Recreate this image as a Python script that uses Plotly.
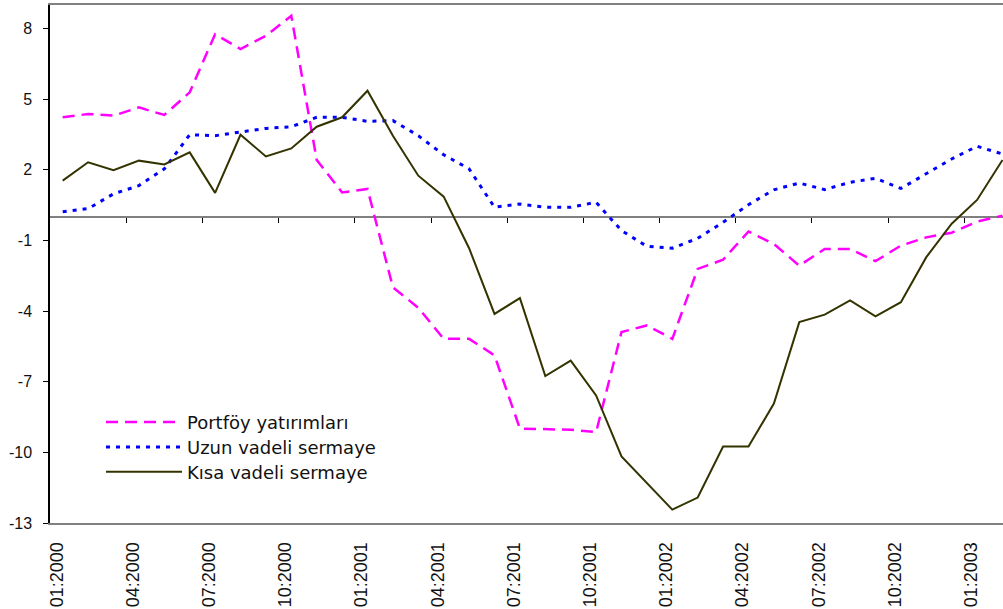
import plotly.graph_objects as go

# Monthly periods, 01:2000 .. 02:2003
months = [f"{m:02d}:{y}" for y in range(2000, 2004) for m in range(1, 13)][:38]

# Series values (percent)
portfoy = [4.23, 4.37, 4.30, 4.65, 4.33, 5.29, 7.76, 7.13, 7.69, 8.54,
           2.42, 1.04, 1.19, -2.99, -3.86, -5.18, -5.18, -5.88, -8.99, -9.00,
           -9.04, -9.14, -4.89, -4.61, -5.18, -2.21, -1.82, -0.62, -1.15, -2.07,
           -1.36, -1.36, -1.88, -1.22, -0.87, -0.67, -0.20, 0.05]
uzun = [0.22, 0.35, 0.98, 1.33, 2.04, 3.49, 3.45, 3.62, 3.76, 3.83,
        4.23, 4.23, 4.06, 4.09, 3.45, 2.64, 2.04, 0.41, 0.55, 0.41,
        0.41, 0.62, -0.58, -1.25, -1.33, -0.91, -0.23, 0.52, 1.15, 1.44,
        1.16, 1.47, 1.64, 1.21, 1.82, 2.46, 3.00, 2.67]
kisa = [1.54, 2.32, 1.98, 2.39, 2.23, 2.74, 1.02, 3.49, 2.57, 2.91,
        3.83, 4.23, 5.36, 3.45, 1.75, 0.86, -1.33, -4.12, -3.45, -6.76,
        -6.10, -7.58, -10.17, -11.30, -12.43, -11.92, -9.75, -9.75, -7.93, -4.47,
        -4.15, -3.55, -4.22, -3.62, -1.71, -0.29, 0.72, 2.42]

series_names = ["Portföy yatırımları", "Uzun vadeli sermaye", "Kısa vadeli sermaye"]
y_ticks = [-13, -10, -7, -4, -1, 2, 5, 8]
y_tick_text = [str(v) for v in y_ticks]  # plain hyphen for negatives

idx = list(range(len(months)))
label_idx = idx[::3]
label_text = [months[i] for i in label_idx]
boundary_ticks = [i - 0.5 for i in label_idx if i > 0]

fig = go.Figure()
fig.add_trace(go.Scatter(x=idx, y=portfoy, name=series_names[0], mode="lines",
                         legend="legend",
                         line=dict(color="#FF00FF", width=2.5, dash="12px,7px")))
fig.add_trace(go.Scatter(x=idx, y=uzun, name=series_names[1], mode="lines",
                         legend="legend2",
                         line=dict(color="#0000FF", width=3, dash="4px,6px")))
fig.add_trace(go.Scatter(x=idx, y=kisa, name=series_names[2], mode="lines",
                         legend="legend3",
                         line=dict(color="#333300", width=2)))
# carrier for the tick-only axis that sits on the zero line
fig.add_trace(go.Scatter(x=idx, y=kisa, xaxis="x2", mode="lines",
                         line=dict(width=0, color="rgba(0,0,0,0)"),
                         showlegend=False, hoverinfo="skip"))

x_range = [-0.5, 37.02]
legend_font = dict(family="DejaVu Sans", size=18, color="#111111")
legend_common = dict(x=0.0535, xanchor="left", yanchor="top",
                     bgcolor="rgba(0,0,0,0)", itemwidth=76, font=legend_font)

fig.update_layout(
    width=1003, height=609,
    margin=dict(l=50, r=0, t=5, b=86),
    paper_bgcolor="white", plot_bgcolor="white",
    showlegend=True,
    legend=dict(y=0.230, **legend_common),
    legend2=dict(y=0.182, **legend_common),
    legend3=dict(y=0.134, **legend_common),
    xaxis=dict(range=x_range, tickmode="array", tickvals=label_idx, ticktext=label_text,
               tickangle=-90, ticks="", showgrid=False, zeroline=False,
               showline=True, linecolor="#808080", linewidth=2, mirror=True,
               ticklabelstandoff=10, ticklabelshift=-6,
               tickfont=dict(family="Liberation Sans", size=18, color="#111111")),
    xaxis2=dict(range=x_range, overlaying="x", anchor="free", position=13 / 22,
                tickmode="array", tickvals=boundary_ticks, showticklabels=False,
                ticks="outside", ticklen=5, tickwidth=1, tickcolor="#000000",
                showgrid=False, zeroline=False, showline=False),
    yaxis=dict(range=[-13, 9], tickmode="array", tickvals=y_ticks, ticktext=y_tick_text,
               ticks="outside", ticklen=5, tickwidth=1, tickcolor="#000000",
               showline=True, linecolor="#000000", linewidth=1.5,
               showgrid=False, zeroline=True, zerolinecolor="#808080", zerolinewidth=2,
               ticklabelstandoff=8,
               tickfont=dict(family="Liberation Sans", size=16, color="#111111")),
)

fig.write_html("out.html")
